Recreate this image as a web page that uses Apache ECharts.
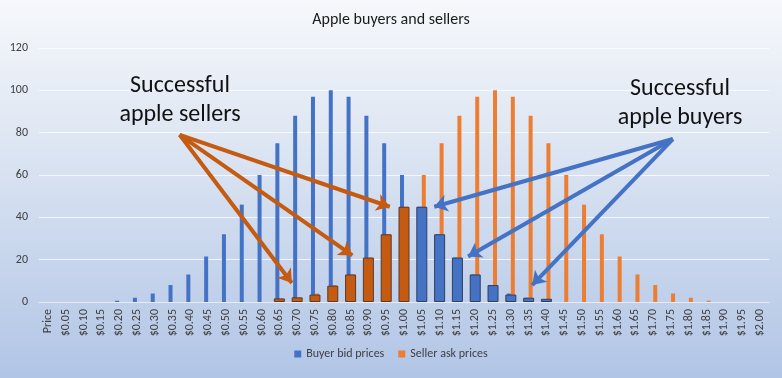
<!DOCTYPE html>
<html>
<head>
<meta charset="utf-8">
<script src="https://cdn.jsdelivr.net/npm/echarts@6/dist/echarts.min.js"></script>
<style>
  html, body { margin: 0; padding: 0; }
  #chart { width: 782px; height: 378px; }
</style>
</head>
<body>
<div id="chart"></div>
<script>
const categories = ['Price', '$0.05', '$0.10', '$0.15', '$0.20', '$0.25', '$0.30', '$0.35', '$0.40', '$0.45',
  '$0.50', '$0.55', '$0.60', '$0.65', '$0.70', '$0.75', '$0.80', '$0.85', '$0.90', '$0.95',
  '$1.00', '$1.05', '$1.10', '$1.15', '$1.20', '$1.25', '$1.30', '$1.35', '$1.40', '$1.45',
  '$1.50', '$1.55', '$1.60', '$1.65', '$1.70', '$1.75', '$1.80', '$1.85', '$1.90', '$1.95', '$2.00'];

// thin bars
const buyerBid = [0, 0, 0, 0, 0.6, 2, 4, 8, 13, 21.5,
  32, 46, 60, 75, 88, 97, 100, 97, 88, 75,
  60, 45, 32, 21, 13, 8, 4, 2, 0.6, 0,
  0, 0, 0, 0, 0, 0, 0, 0, 0, 0, 0];
const sellerAsk = [0, 0, 0, 0, 0, 0, 0, 0, 0, 0,
  0, 0, 0, 0.6, 2, 4, 8, 13, 21, 32,
  45, 60, 75, 88, 97, 100, 97, 88, 75, 60,
  46, 32, 21.5, 13, 8, 4, 2, 0.6, 0, 0, 0];

// highlighted wide bars
const successSellers = [null, null, null, null, null, null, null, null, null, null,
  null, null, null, 1.7, 2.2, 3.5, 7.7, 13, 21, 32,
  45, null, null, null, null, null, null, null, null, null,
  null, null, null, null, null, null, null, null, null, null, null];
const successBuyers = [null, null, null, null, null, null, null, null, null, null,
  null, null, null, null, null, null, null, null, null, null,
  null, 45, 32, 21, 13, 8, 3.5, 2, 1.5, null,
  null, null, null, null, null, null, null, null, null, null, null];

const yTicks = [0, 20, 40, 60, 80, 100, 120];

// annotation arrows in category-index / value space
const sellerArrows = [
  [[7.4, 79], [13.7, 9]],
  [[7.4, 79], [17.1, 22]],
  [[7.4, 79], [19.2, 45]]
];
const buyerArrows = [
  [[35.1, 77], [21.7, 45]],
  [[35.1, 77], [23.6, 21.5]],
  [[35.1, 77], [27.2, 8]]
];

const chart = echarts.init(document.getElementById('chart'), null, { renderer: 'canvas' });

const font = 'Calibri, "Open Sans", "DejaVu Sans", sans-serif';

const option = {
  animation: false,
  backgroundColor: {
    type: 'linear', x: 0, y: 0, x2: 0, y2: 1,
    colorStops: [
      { offset: 0, color: '#f6f8fb' },
      { offset: 0.35, color: '#dfe7f3' },
      { offset: 1, color: '#b1c5e6' }
    ]
  },
  textStyle: { fontFamily: font },
  title: {
    text: 'Apple buyers and sellers',
    left: 'center',
    top: 7,
    textStyle: { fontSize: 16, fontWeight: 'normal', color: '#1a1a1a', fontFamily: font }
  },
  legend: {
    bottom: 13,
    left: 'center',
    itemWidth: 7,
    itemHeight: 7,
    itemGap: 14,
    icon: 'rect',
    data: ['Buyer bid prices', 'Seller ask prices'],
    textStyle: { fontSize: 12, color: '#404040', fontFamily: font }
  },
  grid: { left: 39, right: 13, top: 48, bottom: 76 },
  xAxis: [
    {
      type: 'category',
      data: categories,
      axisLine: { lineStyle: { color: '#e8edf5' } },
      axisTick: { show: false },
      axisLabel: { rotate: 90, interval: 0, fontSize: 12, color: '#404040', margin: 7, fontFamily: font }
    },
    { type: 'category', data: categories, show: false },
    { type: 'value', min: -0.5, max: 40.5, show: false }
  ],
  yAxis: {
    type: 'value',
    min: yTicks[0],
    max: yTicks[yTicks.length - 1],
    interval: 20,
    axisLine: { show: false },
    axisTick: { show: false },
    axisLabel: { fontSize: 12, color: '#404040', margin: 11, fontFamily: font },
    splitLine: { lineStyle: { color: 'rgba(255,255,255,0.75)', width: 1 } }
  },
  series: [
    {
      name: 'Buyer bid prices',
      type: 'bar',
      data: buyerBid,
      barWidth: 4,
      barGap: '0%',
      itemStyle: { color: '#4472c4' }
    },
    {
      name: 'Seller ask prices',
      type: 'bar',
      data: sellerAsk,
      barWidth: 4,
      barGap: '0%',
      itemStyle: { color: '#ed7d31' }
    },
    {
      name: 'Successful sellers',
      type: 'bar',
      xAxisIndex: 1,
      data: successSellers,
      barWidth: 11,
      barGap: '-100%',
      z: 3,
      itemStyle: { color: '#c55a11', borderColor: '#5a3a2a', borderWidth: 1 }
    },
    {
      name: 'Successful buyers',
      type: 'bar',
      xAxisIndex: 1,
      data: successBuyers,
      barWidth: 11,
      barGap: '-100%',
      z: 3,
      itemStyle: { color: '#4472c4', borderColor: '#2f3f5f', borderWidth: 1 }
    },
    {
      type: 'lines',
      coordinateSystem: 'cartesian2d',
      xAxisIndex: 2,
      z: 5,
      symbol: ['none', 'arrow'],
      symbolSize: 13,
      lineStyle: { color: '#c55a11', width: 4, opacity: 1 },
      data: sellerArrows.map(c => ({ coords: c }))
    },
    {
      type: 'lines',
      coordinateSystem: 'cartesian2d',
      xAxisIndex: 2,
      z: 5,
      symbol: ['none', 'arrow'],
      symbolSize: 13,
      lineStyle: { color: '#4472c4', width: 4, opacity: 1 },
      data: buyerArrows.map(c => ({ coords: c }))
    }
  ],
  graphic: [
    {
      type: 'text',
      x: 180,
      y: 71,
      z: 100,
      style: {
        text: 'Successful\napple sellers',
        align: 'center',
        font: '24px ' + font,
        fill: '#111',
        lineHeight: 29
      }
    },
    {
      type: 'text',
      x: 680,
      y: 74,
      z: 100,
      style: {
        text: 'Successful\napple buyers',
        align: 'center',
        font: '24px ' + font,
        fill: '#111',
        lineHeight: 29
      }
    }
  ]
};

chart.setOption(option);
</script>
</body>
</html>
